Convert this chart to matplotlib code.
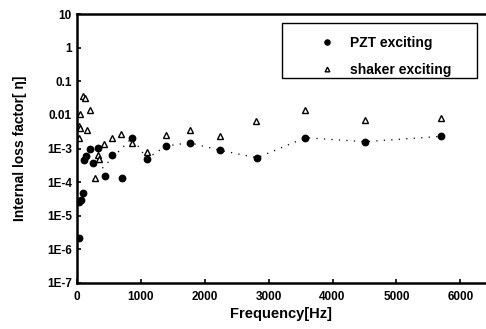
import matplotlib
matplotlib.use("Agg")
import matplotlib.pyplot as plt
from matplotlib.ticker import FixedLocator, NullLocator
from matplotlib.patches import Rectangle

# PZT exciting (filled circles)
pzt_freq = [37, 40, 65, 90, 115, 150, 205, 257, 336, 441, 546, 703, 866,
            1097, 1397, 1769, 2236, 2819, 3575, 4509, 5690]
pzt_eta = [2.2e-6, 2.6e-5, 2.9e-5, 4.8e-5, 4.5e-4, 5.9e-4, 1.0e-3, 3.6e-4,
           1.05e-3, 1.5e-4, 6.3e-4, 1.3e-4, 2.1e-3,
           5.0e-4, 1.2e-3, 1.48e-3, 8.9e-4, 5.3e-4, 2.1e-3, 1.6e-3, 2.3e-3]

# shaker exciting (open triangles)
shk_freq = [30, 40, 45, 55, 90, 130, 165, 200, 283, 336, 340, 430, 546, 688,
            870, 1097, 1397, 1769, 2236, 2803, 3575, 4509, 5690]
shk_eta = [4.7e-3, 2.1e-3, 1.1e-2, 4.0e-3, 3.6e-2, 3.1e-2, 3.5e-3, 1.4e-2,
           1.3e-4, 6.3e-4, 4.8e-4, 1.35e-3, 2.0e-3, 2.7e-3,
           1.5e-3, 8.0e-4, 2.5e-3, 3.5e-3, 2.4e-3, 6.7e-3, 1.4e-2, 7.0e-3, 7.9e-3]

# trend line through PZT results
trend_freq = [400, 866, 1097, 1397, 1769, 2236, 2819, 3575, 4509, 5690]
trend_eta = [2.6e-4, 2.1e-3, 5.0e-4, 1.2e-3, 1.48e-3, 8.9e-4, 5.3e-4, 2.1e-3, 1.6e-3, 2.3e-3]

x_ticks = [0, 1000, 2000, 3000, 4000, 5000, 6000]
x_labels = ["0", "1000", "2000", "3000", "4000", "5000", "6000"]
y_ticks = [1e-7, 1e-6, 1e-5, 1e-4, 1e-3, 1e-2, 1e-1, 1, 10]
y_labels = ["1E-7", "1E-6", "1E-5", "1E-4", "1E-3", "0.01", "0.1", "1", "10"]

plt.rcParams['font.family'] = ['Liberation Sans', 'DejaVu Sans']

fig = plt.figure(figsize=(4.86, 3.29), dpi=100)
ax = fig.add_axes([0.158, 0.140, 0.842, 0.817])

ax.plot(trend_freq, trend_eta, color='black', linestyle=(0, (1, 5)), linewidth=0.9)
ax.plot(pzt_freq, pzt_eta, 'o', color='black', markersize=4.6, linestyle='none',
        label='PZT exciting')
ax.plot(shk_freq, shk_eta, '^', markerfacecolor='white', markeredgecolor='black',
        markersize=4.2, markeredgewidth=1.0, linestyle='none', label='shaker exciting')

ax.set_yscale('log')
ax.set_xlim(0, 6400)
ax.set_ylim(1e-7, 10)
ax.xaxis.set_major_locator(FixedLocator(x_ticks))
ax.set_xticklabels(x_labels, fontsize=8.5, fontweight='bold')
ax.yaxis.set_major_locator(FixedLocator(y_ticks))
ax.yaxis.set_minor_locator(NullLocator())
ax.set_yticklabels(y_labels, fontsize=8.5, fontweight='bold')
ax.tick_params(direction='in', length=3, width=1.2)
ax.tick_params(axis='x', pad=6)

for s in ['left', 'bottom', 'top']:
    ax.spines[s].set_linewidth(1.8)
ax.spines['right'].set_visible(False)

ax.set_xlabel('Frequency[Hz]', fontsize=10.5, fontweight='bold', labelpad=3)
ax.set_ylabel('Internal loss factor[ η]', fontsize=10, fontweight='bold', labelpad=14)

# legend box
ax.add_patch(Rectangle((0.501, 0.762), 0.477, 0.205, transform=ax.transAxes,
                       fill=False, edgecolor='black', linewidth=1.0, zorder=5))
leg = ax.legend(loc='upper left', bbox_to_anchor=(0.594, 0.92), frameon=False,
                prop={'weight': 'bold', 'size': 10}, handlelength=1.0,
                handletextpad=1.15, borderpad=0, borderaxespad=0,
                labelspacing=0.95, markerscale=0.8)

fig.savefig('out.png', dpi=100)
